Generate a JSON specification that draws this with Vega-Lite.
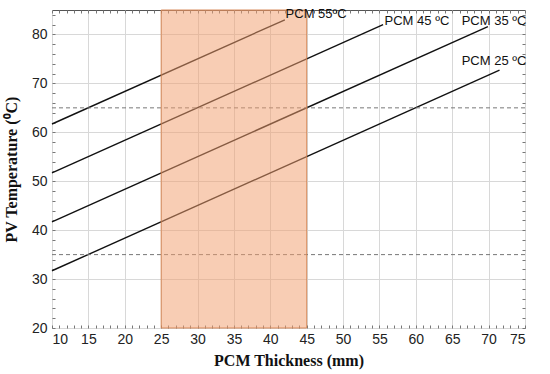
{
  "$schema": "https://vega.github.io/schema/vega-lite/v6.json",
  "width": 473,
  "height": 318,
  "autosize": "none",
  "padding": {"left": 52, "top": 10, "right": 25, "bottom": 46},
  "background": "white",
  "config": {
    "view": {"stroke": "#555555", "strokeWidth": 1},
    "axis": {
      "labelFont": "Liberation Sans",
      "labelFontSize": 14,
      "labelColor": "#222222",
      "titleFont": "Liberation Serif",
      "titleFontSize": 16,
      "titleFontWeight": "bold",
      "titleColor": "#111111",
      "gridColor": "#d8d8d8",
      "gridWidth": 1,
      "domain": false
    }
  },
  "datasets": {
    "lines": [
      {"series": "PCM 25", "x": 10, "y": 31.7},
      {"series": "PCM 25", "x": 71.5, "y": 72.7},
      {"series": "PCM 35", "x": 10, "y": 41.7},
      {"series": "PCM 35", "x": 69.9, "y": 81.6},
      {"series": "PCM 45", "x": 10, "y": 51.7},
      {"series": "PCM 45", "x": 55.5, "y": 82.0},
      {"series": "PCM 55", "x": 10, "y": 61.7},
      {"series": "PCM 55", "x": 42, "y": 83.0}
    ],
    "refs": [{"y": 65}, {"y": 35}],
    "band": [{"x": 25, "x2": 45}],
    "labels": [
      {"text": "PCM 55ºC", "x": 42.1, "y": 84.1},
      {"text": "PCM 45 ºC", "x": 55.7, "y": 82.7},
      {"text": "PCM 35 ºC", "x": 66.3, "y": 82.7},
      {"text": "PCM 25 ºC", "x": 66.3, "y": 74.5}
    ]
  },
  "resolve": {"axis": {"x": "independent", "y": "independent"}},
  "layer": [
    {
      "data": {"name": "lines"},
      "mark": {"type": "line", "color": "#111111", "strokeWidth": 1.4},
      "encoding": {
        "x": {
          "field": "x", "type": "quantitative",
          "scale": {"domain": [10, 75], "nice": false, "zero": false},
          "axis": {
            "title": "PCM Thickness (mm)",
            "values": [10, 15, 20, 25, 30, 35, 40, 45, 50, 55, 60, 65, 70, 75],
            "ticks": false, "labelPadding": 4, "titlePadding": 6
          }
        },
        "y": {
          "field": "y", "type": "quantitative",
          "scale": {"domain": [20, 85], "nice": false, "zero": false},
          "axis": {
            "title": "PV Temperature (⁰C)",
            "values": [20, 30, 40, 50, 60, 70, 80],
            "ticks": false, "labelPadding": 5, "titlePadding": 12
          }
        },
        "detail": {"field": "series"}
      }
    },
    {
      "data": {"name": "refs"},
      "mark": {"type": "rule", "color": "#777777", "strokeDash": [4, 3], "strokeWidth": 1},
      "encoding": {
        "y": {
          "field": "y", "type": "quantitative",
          "axis": {
            "orient": "right", "title": null, "labels": false, "grid": false,
            "values": [20, 22, 24, 26, 28, 30, 32, 34, 36, 38, 40, 42, 44, 46, 48, 50, 52, 54, 56, 58, 60, 62, 64, 66, 68, 70, 72, 74, 76, 78, 80, 82, 84],
            "tickSize": -3, "tickColor": "#777777"
          }
        }
      }
    },
    {
      "data": {"name": "band"},
      "mark": {"type": "rect", "fill": "#f2a070", "fillOpacity": 0.52, "stroke": "#d5824f", "strokeWidth": 1, "strokeOpacity": 0.9},
      "encoding": {
        "x": {
          "field": "x", "type": "quantitative",
          "axis": {
            "orient": "bottom", "title": null, "labels": false, "grid": false,
            "values": [10, 11, 12, 13, 14, 15, 16, 17, 18, 19, 20, 21, 22, 23, 24, 25, 26, 27, 28, 29, 30, 31, 32, 33, 34, 35, 36, 37, 38, 39, 40, 41, 42, 43, 44, 45, 46, 47, 48, 49, 50, 51, 52, 53, 54, 55, 56, 57, 58, 59, 60, 61, 62, 63, 64, 65, 66, 67, 68, 69, 70, 71, 72, 73, 74, 75],
            "tickSize": -3, "tickColor": "#777777"
          }
        },
        "x2": {"field": "x2"},
        "y": {"datum": 20, "type": "quantitative", "axis": null},
        "y2": {"datum": 85}
      }
    },
    {
      "data": {"name": "labels"},
      "mark": {"type": "text", "align": "left", "baseline": "middle", "font": "Liberation Sans", "fontSize": 13, "color": "#111111"},
      "encoding": {
        "x": {
          "field": "x", "type": "quantitative",
          "axis": {
            "orient": "top", "title": null, "labels": false, "grid": false,
            "values": [10, 11, 12, 13, 14, 15, 16, 17, 18, 19, 20, 21, 22, 23, 24, 25, 26, 27, 28, 29, 30, 31, 32, 33, 34, 35, 36, 37, 38, 39, 40, 41, 42, 43, 44, 45, 46, 47, 48, 49, 50, 51, 52, 53, 54, 55, 56, 57, 58, 59, 60, 61, 62, 63, 64, 65, 66, 67, 68, 69, 70, 71, 72, 73, 74, 75],
            "tickSize": -3, "tickColor": "#777777"
          }
        },
        "y": {
          "field": "y", "type": "quantitative",
          "axis": {
            "orient": "left", "title": null, "labels": false, "grid": false,
            "values": [20, 22, 24, 26, 28, 30, 32, 34, 36, 38, 40, 42, 44, 46, 48, 50, 52, 54, 56, 58, 60, 62, 64, 66, 68, 70, 72, 74, 76, 78, 80, 82, 84],
            "tickSize": -3, "tickColor": "#777777"
          }
        },
        "text": {"field": "text"}
      }
    }
  ]
}
